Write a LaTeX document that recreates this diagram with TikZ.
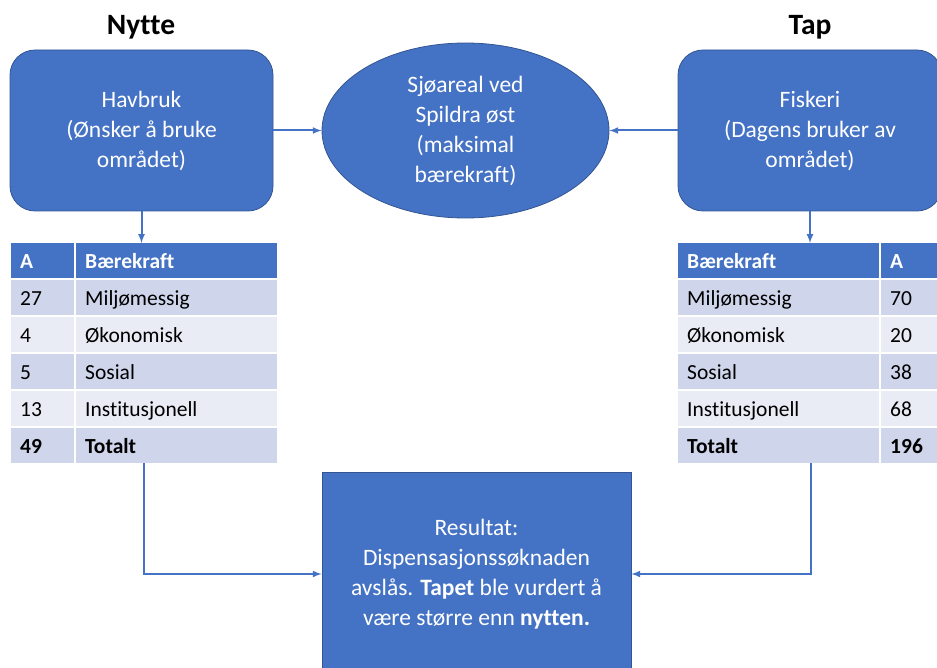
\documentclass[tikz,border=0pt]{standalone}
\usepackage{fontspec}
\setmainfont{Carlito}[Ligatures=NoCommon]
\usetikzlibrary{matrix}
\usetikzlibrary{shapes.geometric}
\usetikzlibrary{arrows}

\definecolor{blaa}{HTML}{4472C4}
\definecolor{rad1}{HTML}{CFD5EA}
\definecolor{rad2}{HTML}{E9EBF5}

\newcommand{\boksfont}{\fontsize{23.5}{30}\selectfont}
\newcommand{\tabfont}{\fontsize{21.5}{24}\selectfont}
\newcommand{\tittelfont}{\fontsize{29.5}{34}\selectfont\bfseries}

\tikzset{
  boks/.style={fill=blaa, draw=blaa!75!black, line width=0.8pt, text=white,
    align=center, font=\boksfont},
  pil/.style={->, >=latex, draw=blaa, line width=2pt},
  tabell/.style={matrix of nodes, inner sep=0pt, column sep=2pt, row sep=2pt,
    anchor=north west,
    nodes={inner xsep=9pt, inner ysep=0pt, minimum height=35pt,
      text height=18pt, text depth=2pt, align=left, font=\tabfont, fill=rad1},
    row 1/.style={nodes={fill=blaa, text=white, font=\tabfont\bfseries}},
    row 3/.style={nodes={fill=rad2}},
    row 5/.style={nodes={fill=rad2}},
    row 6/.style={nodes={font=\tabfont\bfseries}}}
}

\begin{document}
\begin{tikzpicture}[x=1pt, y=-1pt]
  \path[use as bounding box] (0,0) rectangle (937,668);
  \clip (0,0) rectangle (937,668);

  % overskrifter
  \node[font=\tittelfont] (nytte) at (141,27) {Nytte};
  \node[font=\tittelfont] (tap) at (810,27) {Tap};

  % bokser
  \node[boks, rounded corners=25pt, minimum width=263pt, minimum height=161pt]
    (havbruk) at (141.5,130.5) {Havbruk\\(Ønsker å bruke\\området)};
  \node[boks, rounded corners=25pt, minimum width=264pt, minimum height=161pt]
    (fiskeri) at (810,130.5) {Fiskeri\\(Dagens bruker av\\området)};
  \node[boks, ellipse, inner sep=0pt, minimum width=287pt, minimum height=175pt]
    (sjo) at (465.5,130.5) {Sjøareal ved\\Spildra øst\\(maksimal\\bærekraft)};
  \node[boks, minimum width=309pt, minimum height=204pt] (res) at (476.5,574)
    {Resultat:\\Dispensasjonssøknaden\\avslås. \textbf{Tapet} ble vurdert å\\være større enn \textbf{nytten.}};

  % tabeller
  \matrix(lt)[tabell, column 1/.style={nodes={text width=45pt}},
    column 2/.style={nodes={text width=183pt}}] at (11,243) {
    A & Bærekraft \\
    27 & Miljømessig \\
    4 & Økonomisk \\
    5 & Sosial \\
    13 & Institusjonell \\
    49 & Totalt \\};
  \matrix(rt)[tabell, column 1/.style={nodes={text width=183pt}},
    column 2/.style={nodes={text width=44pt}}] at (678,243) {
    Bærekraft & A \\
    Miljømessig & 70 \\
    Økonomisk & 20 \\
    Sosial & 38 \\
    Institusjonell & 68 \\
    Totalt & 196 \\};

  % piler
  \draw[pil] (havbruk) -- (sjo);
  \draw[pil] (fiskeri) -- (sjo);
  \draw[pil] (havbruk) -- (havbruk |- lt.north);
  \draw[pil] (fiskeri) -- (fiskeri |- rt.north);
  \draw[pil] (lt.south) |- (res);
  \draw[pil] (rt.south) |- (res);
\end{tikzpicture}
\end{document}
